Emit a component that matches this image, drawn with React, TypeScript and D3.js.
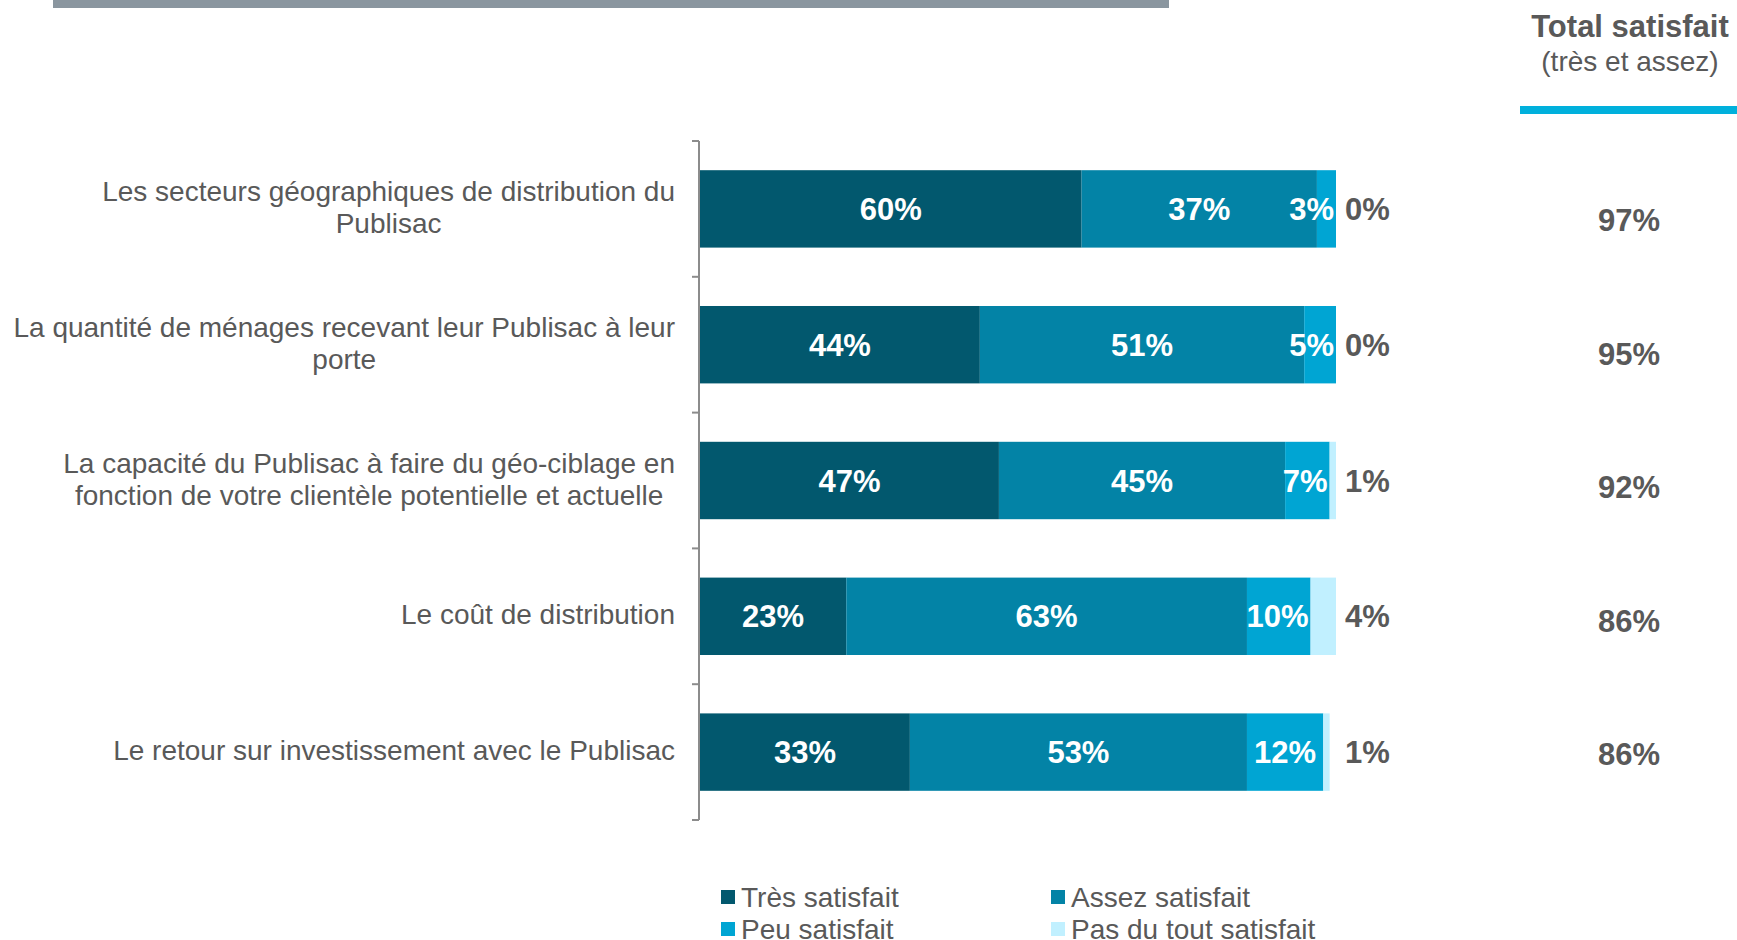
import React, { useRef, useEffect } from "react";
import * as d3 from "d3";

const categories = ["secteurs", "quantite", "ciblage", "cout", "retour"];
const categoryLines = [
  ["Les secteurs géographiques de distribution du", "Publisac"],
  ["La quantité de ménages recevant leur Publisac à leur", "porte"],
  ["La capacité du Publisac à faire du géo-ciblage en", "fonction de votre clientèle potentielle et actuelle"],
  ["Le coût de distribution"],
  ["Le retour sur investissement avec le Publisac"],
];
const seriesNames = ["Très satisfait", "Assez satisfait", "Peu satisfait", "Pas du tout satisfait"];
const tresSatisfait = [60, 44, 47, 23, 33];
const assezSatisfait = [37, 51, 45, 63, 53];
const peuSatisfait = [3, 5, 7, 10, 12];
const pasDuTout = [0, 0, 1, 4, 1];
const totalSatisfait = [97, 95, 92, 86, 86];
const colors = ["#02586E", "#0383A6", "#00A5D3", "#C1F0FF"];

const FONT = "'Liberation Sans', Arial, sans-serif";
const GREY = "#595959";

const App = () => {
  const svgRef = useRef<SVGSVGElement>(null);

  useEffect(() => {
    const width = 1737;
    const height = 940;
    let svg = d3.select(svgRef.current);
    svg.selectAll("*").remove();
    svg.attr("width", width).attr("height", height);

    const table = categories.map((c, i) => ({
      key: c,
      s0: tresSatisfait[i],
      s1: assezSatisfait[i],
      s2: peuSatisfait[i],
      s3: pasDuTout[i],
    }));
    const keys = ["s0", "s1", "s2", "s3"];
    const stacked = d3.stack().keys(keys)(table as any);

    const x = d3.scaleLinear().domain([0, 100]).range([700, 1336]);
    const y = d3
      .scaleBand()
      .domain(categories)
      .range([141, 820])
      .paddingInner(0.43)
      .paddingOuter(0.215);
    const yTotal = d3.scalePoint().domain(categories).range([220, 754]);

    // top grey band and header
    svg.append("rect").attr("x", 53).attr("y", 0).attr("width", 1116).attr("height", 8).attr("fill", "#8A969F");
    svg
      .append("text")
      .attr("x", 1630)
      .attr("y", 37)
      .attr("text-anchor", "middle")
      .style("font-family", FONT)
      .style("font-size", "31px")
      .style("font-weight", "bold")
      .attr("fill", GREY)
      .text("Total satisfait");
    svg
      .append("text")
      .attr("x", 1630)
      .attr("y", 71)
      .attr("text-anchor", "middle")
      .style("font-family", FONT)
      .style("font-size", "28px")
      .attr("fill", GREY)
      .text("(très et assez)");
    svg.append("rect").attr("x", 1520).attr("y", 106).attr("width", 217).attr("height", 8).attr("fill", "#00B0DC");

    // bars
    const layer = svg
      .selectAll("g.layer")
      .data(stacked)
      .enter()
      .append("g")
      .attr("class", "layer")
      .attr("fill", (d, i) => colors[i]);

    layer
      .selectAll("rect")
      .data((d) => d.map((v, j) => ({ v, j })))
      .enter()
      .append("rect")
      .attr("x", (d) => x(d.v[0]))
      .attr("y", (d) => y(categories[d.j])!)
      .attr("width", (d) => x(d.v[1]) - x(d.v[0]))
      .attr("height", y.bandwidth());

    // inner labels for first three series
    stacked.slice(0, 3).forEach((s) => {
      s.forEach((v, j) => {
        const cy = y(categories[j])! + y.bandwidth() / 2;
        const segEnd = x(v[1]);
        const t = svg
          .append("text")
          .attr("y", cy + 11)
          .attr("text-anchor", "middle")
          .style("font-family", FONT)
          .style("font-size", "31px")
          .style("font-weight", "bold")
          .attr("fill", "#fff")
          .text(`${v[1] - v[0]}%`);
        const w = (t.node() as SVGTextElement).getComputedTextLength();
        const center = Math.min((x(v[0]) + segEnd) / 2, segEnd - w / 2 - 2);
        t.attr("x", center);
      });
    });

    // outer labels for last series
    svg
      .selectAll("text.outer")
      .data(pasDuTout)
      .enter()
      .append("text")
      .attr("class", "outer")
      .attr("x", x(100) + 9)
      .attr("y", (d, i) => y(categories[i])! + y.bandwidth() / 2 + 11)
      .style("font-family", FONT)
      .style("font-size", "31px")
      .style("font-weight", "bold")
      .attr("fill", GREY)
      .text((d) => `${d}%`);

    // axis with ticks at band boundaries
    const [r0, r1] = y.range();
    svg.append("line").attr("x1", 699).attr("x2", 699).attr("y1", r0).attr("y2", r1).attr("stroke", "#8C8C8C").attr("stroke-width", 2);
    svg
      .selectAll("line.tick")
      .data(d3.range(categories.length + 1))
      .enter()
      .append("line")
      .attr("class", "tick")
      .attr("x1", 692)
      .attr("x2", 699)
      .attr("y1", (i) => r0 + i * y.step())
      .attr("y2", (i) => r0 + i * y.step())
      .attr("stroke", "#8C8C8C")
      .attr("stroke-width", 2);

    // category labels: centred lines, longest line right-aligned at 675
    categoryLines.forEach((lines, i) => {
      const cy = y(categories[i])! + y.bandwidth() / 2;
      const lh = 32;
      const g = svg.append("g");
      const texts = lines.map((ln, k) =>
        g
          .append("text")
          .attr("y", cy + (k - (lines.length - 1) / 2) * lh + 8)
          .attr("text-anchor", "middle")
          .style("font-family", FONT)
          .style("font-size", "28px")
          .attr("fill", GREY)
          .text(ln)
      );
      const maxW = d3.max(texts, (t) => (t.node() as SVGTextElement).getComputedTextLength())!;
      texts.forEach((t) => t.attr("x", 675 - maxW / 2));
    });

    // totals
    svg
      .selectAll("text.total")
      .data(totalSatisfait)
      .enter()
      .append("text")
      .attr("class", "total")
      .attr("x", 1629)
      .attr("y", (d, i) => yTotal(categories[i])! + 11)
      .attr("text-anchor", "middle")
      .style("font-family", FONT)
      .style("font-size", "31px")
      .style("font-weight", "bold")
      .attr("fill", GREY)
      .text((d) => `${d}%`);

    // legend
    const legendX = [721, 1051];
    const legendY = [897, 929];
    seriesNames.forEach((name, i) => {
      const lx = legendX[i % 2];
      const ly = legendY[Math.floor(i / 2)];
      svg.append("rect").attr("x", lx).attr("y", ly - 7).attr("width", 14).attr("height", 14).attr("fill", colors[i]);
      svg
        .append("text")
        .attr("x", lx + 20)
        .attr("y", ly + 10)
        .style("font-family", FONT)
        .style("font-size", "28px")
        .attr("fill", GREY)
        .text(name);
    });
  }, []);

  return (
    <svg
      ref={svgRef}
      style={{ position: "absolute", left: 0, top: 0, display: "block", background: "#fff" }}
    ></svg>
  );
};

export default App;
